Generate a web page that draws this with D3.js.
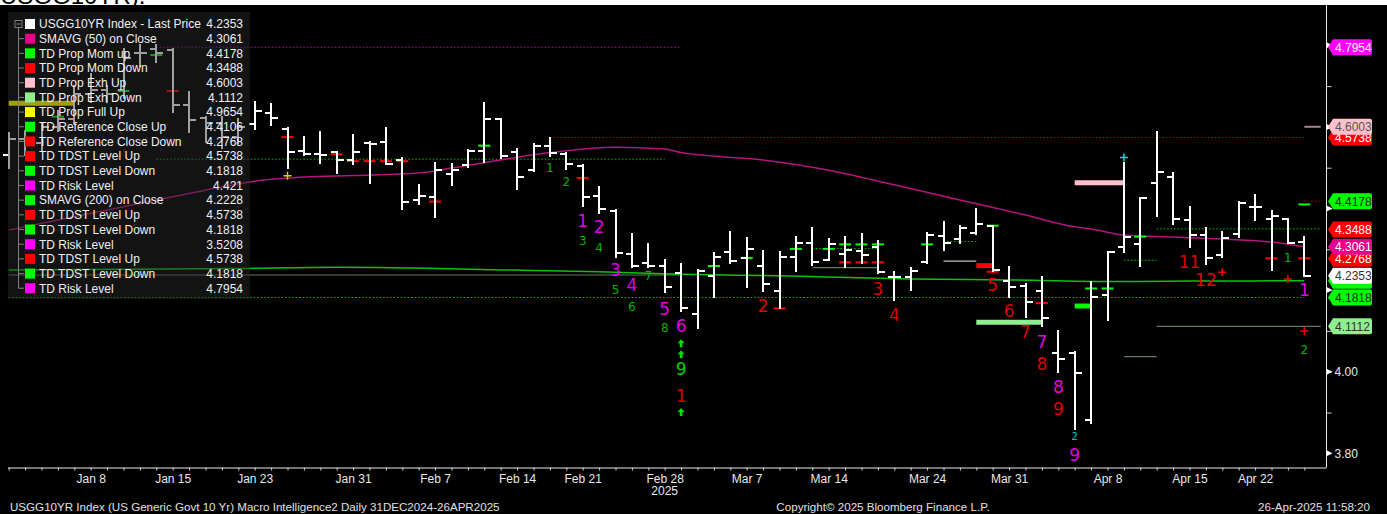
<!DOCTYPE html>
<html>
<head>
<meta charset="utf-8">
<script src="https://cdn.jsdelivr.net/npm/d3@7"></script>
<style>
  html, body { margin: 0; padding: 0; background: #fff; }
  svg { display: block; font-family: "Liberation Sans", Arial, sans-serif; }
</style>
</head>
<body>
<svg id="chart" width="1387" height="514"></svg>
<script>
// trading days shown on the chart
const dates = ['2024-12-31','2025-01-02','2025-01-03','2025-01-06','2025-01-07','2025-01-08','2025-01-09','2025-01-10','2025-01-13','2025-01-14','2025-01-15','2025-01-16','2025-01-17','2025-01-21','2025-01-22','2025-01-23','2025-01-24','2025-01-27','2025-01-28','2025-01-29','2025-01-30','2025-01-31','2025-02-03','2025-02-04','2025-02-05','2025-02-06','2025-02-07','2025-02-10','2025-02-11','2025-02-12','2025-02-13','2025-02-14','2025-02-18','2025-02-19','2025-02-20','2025-02-21','2025-02-24','2025-02-25','2025-02-26','2025-02-27','2025-02-28','2025-03-03','2025-03-04','2025-03-05','2025-03-06','2025-03-07','2025-03-10','2025-03-11','2025-03-12','2025-03-13','2025-03-14','2025-03-17','2025-03-18','2025-03-19','2025-03-20','2025-03-21','2025-03-24','2025-03-25','2025-03-26','2025-03-27','2025-03-28','2025-03-31','2025-04-01','2025-04-02','2025-04-03','2025-04-04','2025-04-07','2025-04-08','2025-04-09','2025-04-10','2025-04-11','2025-04-14','2025-04-15','2025-04-16','2025-04-17','2025-04-21','2025-04-22','2025-04-23','2025-04-24','2025-04-25'];

const open = [4.53,4.57,4.56,4.60,4.62,4.68,4.69,4.69,4.78,4.79,
  4.788,4.654,4.623,4.61,4.575,4.606,4.635,4.595,4.542,4.533,
  4.538,4.520,4.561,4.562,4.519,4.421,4.429,4.484,4.507,4.541,
  4.619,4.538,4.495,4.553,4.534,4.505,4.431,4.395,4.288,4.267,
  4.260,4.243,4.141,4.235,4.293,4.279,4.260,4.199,4.280,4.316,
  4.275,4.288,4.297,4.306,4.233,4.231,4.268,4.333,4.325,4.339,
  4.358,4.222,4.210,4.199,4.045,4.045,3.882,4.188,4.306,4.312,
  4.462,4.478,4.372,4.335,4.286,4.337,4.403,4.374,4.374,4.319];
const high = [4.585,4.59,4.61,4.64,4.70,4.73,4.70,4.79,4.80,4.80,
  4.79,4.686,4.625,4.625,4.62,4.662,4.656,4.597,4.576,4.588,
  4.539,4.580,4.562,4.597,4.523,4.458,4.512,4.510,4.543,4.658,
  4.619,4.545,4.557,4.574,4.535,4.507,4.453,4.396,4.337,4.312,
  4.275,4.263,4.249,4.292,4.342,4.327,4.296,4.293,4.329,4.351,
  4.325,4.329,4.337,4.321,4.245,4.255,4.339,4.366,4.358,4.398,
  4.358,4.257,4.214,4.233,4.100,4.048,4.221,4.294,4.511,4.425,
  4.587,4.488,4.404,4.351,4.343,4.417,4.433,4.395,4.374,4.329];
const low = [4.50,4.53,4.54,4.59,4.61,4.66,4.66,4.67,4.75,4.76,
  4.637,4.588,4.564,4.548,4.56,4.594,4.605,4.499,4.531,4.511,
  4.488,4.510,4.462,4.509,4.400,4.411,4.380,4.458,4.502,4.515,
  4.523,4.447,4.492,4.529,4.496,4.406,4.390,4.282,4.257,4.257,
  4.195,4.150,4.106,4.184,4.266,4.208,4.199,4.155,4.248,4.262,
  4.274,4.257,4.266,4.243,4.176,4.200,4.267,4.298,4.315,4.337,
  4.248,4.184,4.133,4.112,4.000,3.859,3.875,4.127,4.293,4.259,
  4.382,4.361,4.306,4.264,4.280,4.331,4.372,4.249,4.315,4.235];
const close = [4.57,4.56,4.60,4.62,4.68,4.69,4.68,4.77,4.78,4.78,
  4.654,4.617,4.61,4.575,4.60,4.639,4.623,4.538,4.534,4.531,
  4.519,4.539,4.557,4.510,4.417,4.431,4.494,4.494,4.542,4.619,
  4.529,4.477,4.553,4.535,4.510,4.429,4.400,4.290,4.259,4.260,
  4.207,4.155,4.247,4.280,4.272,4.300,4.215,4.280,4.315,4.270,
  4.312,4.298,4.286,4.245,4.233,4.247,4.335,4.316,4.351,4.361,
  4.249,4.207,4.170,4.132,4.030,3.996,4.184,4.294,4.331,4.425,
  4.490,4.374,4.335,4.279,4.327,4.413,4.403,4.382,4.316,4.2353];

// moving averages, sampled along the drawn line (bar index, value)
const sma50Idx  = [0, 3, 6, 9, 12, 15, 18, 21, 25, 27, 30, 33, 37, 40, 41, 46, 50, 54, 58, 62, 65, 66, 68, 71, 74, 77, 79];
const sma50Val  = [4.347,4.372,4.396,4.421,4.445,4.467,4.477,4.481,4.487,4.499,4.519,4.537,4.550,4.546,4.537,4.519,4.494,4.458,4.421,4.384,4.355,4.350,4.335,4.330,4.325,4.318,4.3061];
const sma200Idx = [0, 14, 20, 31, 36, 41, 47, 55, 61, 68, 72, 79];
const sma200Val = [4.249,4.253,4.256,4.249,4.245,4.239,4.235,4.227,4.225,4.221,4.222,4.2228];

// legend rows
const legendNames = ['USGG10YR Index - Last Price','SMAVG (50)  on Close','TD Prop Mom up','TD Prop Mom Down','TD Prop Exh Up','TD Prop Exh Down','TD Prop Full Up','TD Reference Close Up','TD Reference Close Down','TD TDST Level Up','TD TDST Level Down','TD Risk Level','SMAVG (200)  on Close','TD TDST Level Up','TD TDST Level Down','TD Risk Level','TD TDST Level Up','TD TDST Level Down','TD Risk Level'];
const legendValues = ['4.2353','4.3061','4.4178','4.3488','4.6003','4.1112','4.9654','4.4106','4.2768','4.5738','4.1818','4.421','4.2228','4.5738','4.1818','3.5208','4.5738','4.1818','4.7954'];
const legendColors = ['#ffffff','#e6008c','#00ff00','#ff0000','#ffc0cb','#90ee90','#ffff00','#00ff00','#ff0000','#ff0000','#00ff00','#ff00ff','#00ff00','#ff0000','#00ff00','#ff00ff','#ff0000','#00ff00','#ff00ff'];

// right-hand value badges (the 4.2228 one sits almost fully hidden)
const badgeVals   = [4.1112, 4.1818, 4.2228, 4.2353, 4.2768, 4.3061, 4.3488, 4.4178, 4.5738, 4.6003, 4.7954];
const badgeFill   = ['#90ee90','#00ff00','#00ff00','#ffffff','#ff0000','#e6008c','#ff0000','#00ff00','#ff0000','#ffc0cb','#ff00ff'];
const badgeText   = ['#333333','#222222','#222222','#333333','#ffffff','#ffffff','#ffffff','#222222','#ffffff','#555555','#ffffff'];
const badgeShown  = [true, true, false, true, true, true, true, true, true, true, true];

// axis labels
const labelDates = ['2025-01-08','2025-01-15','2025-01-23','2025-01-31','2025-02-07','2025-02-14','2025-02-21','2025-02-28','2025-03-07','2025-03-14','2025-03-24','2025-03-31','2025-04-08','2025-04-15','2025-04-22'];
const yMajors = [3.8, 4.0, 4.2, 4.4, 4.6, 4.8];
const yLabelled = [3.8, 4.0];

// TD reference close markers: [bar index, level]
const redDashes = [[10,4.688],[17,4.575],[20,4.533],[21,4.516],[22,4.516],[23,4.516],[24,4.516],[26,4.417],[35,4.475],[47,4.155],[51,4.268],[52,4.268],[53,4.268],[60,4.245],[63,4.168],[77,4.278],[79,4.278]];
const greenDashes = [[3,4.625],[7,4.688],[9,4.776],[29,4.554],[43,4.259],[45,4.279],[48,4.301],[50,4.301],[51,4.312],[52,4.312],[53,4.312],[56,4.312],[60,4.358],[66,4.204],[67,4.204],[69,4.331],[79,4.410]];

// TD level segments: [from index, to index, level, kind]
const levelSegs = [
  [9, 41, 4.7954, 'riskDot'],
  [9, 40, 4.521, 'greenDot'],
  [33, 79, 4.5738, 'redDot'],
  [0, 79, 4.1818, 'greenDot'],
  [70, 80, 4.350, 'greenDot'],
  [68, 70, 4.273, 'greenDot'],
  [49, 53, 4.302, 'greenDot'],
  [57, 59, 4.319, 'greenDot'],
  [79, 80, 4.418, 'redDot'],
  [0, 41, 4.237, 'grey'],
  [49, 53, 4.255, 'grey'],
  [57, 59, 4.271, 'lightGrey'],
  [70, 80, 4.1112, 'grey'],
  [68, 70, 4.037, 'grey'],
  [79, 80, 4.6003, 'brown']
];
// TD prop blocks: [from index, to index, level, colour]
const blocks = [
  [0, 4, 4.658, '#ffff00'],
  [65, 68, 4.463, '#ffc0cb'],
  [59, 63, 4.121, '#90ee90'],
  [59, 60, 4.260, '#ff0000'],
  [65, 66, 4.161, '#00ff00']
];
const plusMarks = [[17,4.480,'#e0d000'],[68,4.525,'#00e0e0'],[74,4.244,'#ff0000'],[78,4.227,'#ff0000'],[79,4.100,'#ff0000']];
const arrowMarks = [[41,4.070],[41,4.043],[41,3.901]];

// TD sequential counts: [bar index, text, level]
const greenCounts = [[33,'1',4.501],[34,'2',4.466],[35,'3',4.321],[36,'4',4.305],[37,'5',4.200],[38,'6',4.159],[39,'7',4.235],[40,'8',4.109],[78,'1',4.279],[79,'2',4.053]];
const bigGreenCounts = [[41,'9',4.007]];
const magentaCounts = [[35,'1',4.370],[36,'2',4.355],[37,'3',4.249],[38,'4',4.213],[40,'5',4.155],[41,'6',4.112],[63,'7',4.074],[64,'8',3.963],[65,'9',3.796],[79,'1',4.200]];
const redCounts = [[41,'1',3.940],[46,'2',4.161],[53,'3',4.204],[54,'4',4.139],[60,'5',4.213],[61,'6',4.149],[62,'7',4.098],[63,'8',4.018],[64,'9',3.908],[72,'11',4.270],[73,'12',4.226]];
const cyanCounts = [[65,'2',3.842]];

// ---- layout ----
const W = 1387, H = 514;
const plot = { right: 1326.5, top: 5, bottom: 467.5 };
const uiFont = '"DejaVu Sans", Verdana, sans-serif';

const svg = d3.select('#chart');

svg.append('rect').attr('width', W).attr('height', H).attr('fill', '#ffffff');
// bottom of the cropped caption above the chart
svg.append('text')
  .attr('x', 0).attr('y', 4)
  .style('font-size', '24px')
  .style('fill', '#000')
  .text('USGG10YR).');
svg.append('rect').attr('x', 0).attr('y', plot.top).attr('width', W).attr('height', H - plot.top).attr('fill', '#000000');

// scales
const x = d3.scalePoint().domain(dates).range([8.7, 1304.3]);
const y = d3.scaleLinear().domain([3.8, 4.8]).range([453.3, 45.3]);
const xAt = i => i < dates.length ? x(dates[i]) : x(dates[dates.length - 1]) + (i - dates.length + 1) * x.step();

const g = svg.append('g');

// level segments
const segStyle = {
  riskDot:   { stroke: '#c000c0', dash: '1.5,2', w: 1 },
  greenDot:  { stroke: '#00c000', dash: '1.5,2', w: 1 },
  redDot:    { stroke: '#c00000', dash: '1.5,2', w: 1 },
  grey:      { stroke: '#5e7a5e', dash: null, w: 1.2 },
  lightGrey: { stroke: '#b8c8b8', dash: null, w: 1.2 },
  brown:     { stroke: '#a08484', dash: null, w: 2 }
};
g.selectAll('.seg')
  .data(levelSegs)
  .enter()
  .append('line')
  .attr('x1', d => xAt(d[0]))
  .attr('x2', d => xAt(d[1]))
  .attr('y1', d => y(d[2]))
  .attr('y2', d => y(d[2]))
  .attr('stroke', d => segStyle[d[3]].stroke)
  .attr('stroke-width', d => segStyle[d[3]].w)
  .attr('stroke-dasharray', d => segStyle[d[3]].dash);

// moving averages
const maLine = d3.line()
  .x(d => xAt(d[0]))
  .y(d => y(d[1]))
  .curve(d3.curveMonotoneX);

g.append('path')
  .datum(sma200Idx.map((d, i) => [d, sma200Val[i]]))
  .attr('d', maLine)
  .attr('fill', 'none')
  .attr('stroke', '#10c010')
  .attr('stroke-width', 1.5);

g.append('path')
  .datum(sma50Idx.map((d, i) => [d, sma50Val[i]]))
  .attr('d', maLine)
  .attr('fill', 'none')
  .attr('stroke', '#b4147e')
  .attr('stroke-width', 1.5);

// TD prop blocks
g.selectAll('.block')
  .data(blocks)
  .enter()
  .append('line')
  .attr('x1', d => xAt(d[0]))
  .attr('x2', d => xAt(d[1]))
  .attr('y1', d => y(d[2]))
  .attr('y2', d => y(d[2]))
  .attr('stroke', d => d[3])
  .attr('stroke-width', 5);

// reference close dashes
const dash = (data, colour) => g.selectAll(null)
  .data(data)
  .enter()
  .append('line')
  .attr('x1', d => xAt(d[0]) - 6)
  .attr('x2', d => xAt(d[0]) + 6)
  .attr('y1', d => y(d[1]))
  .attr('y2', d => y(d[1]))
  .attr('stroke', colour)
  .attr('stroke-width', 2);
dash(redDashes, '#ff0000');
dash(greenDashes, '#00ff00');

// OHLC bars
const bars = g.selectAll('.bar')
  .data(dates)
  .enter()
  .append('g')
  .attr('stroke', '#ffffff')
  .attr('stroke-width', 2)
  .attr('shape-rendering', 'crispEdges');
bars.append('line')
  .attr('x1', d => x(d)).attr('x2', d => x(d))
  .attr('y1', (d, i) => y(high[i]) - 1)
  .attr('y2', (d, i) => y(low[i]) + 1);
bars.append('line')
  .attr('x1', d => x(d) - 6).attr('x2', d => x(d))
  .attr('y1', (d, i) => y(open[i])).attr('y2', (d, i) => y(open[i]));
bars.append('line')
  .attr('x1', d => x(d)).attr('x2', d => x(d) + 7)
  .attr('y1', (d, i) => y(close[i])).attr('y2', (d, i) => y(close[i]));

// plus markers
g.selectAll('.plus')
  .data(plusMarks)
  .enter()
  .append('path')
  .attr('d', d => {
    const cx = xAt(d[0]), cy = y(d[1]);
    return `M${cx - 4},${cy}H${cx + 4}M${cx},${cy - 4}V${cy + 4}`;
  })
  .attr('stroke', d => d[2])
  .attr('stroke-width', 1.5);

// up arrows
g.selectAll('.arrow')
  .data(arrowMarks)
  .enter()
  .append('path')
  .attr('d', d => {
    const cx = xAt(d[0]), cy = y(d[1]);
    return `M${cx},${cy - 4}L${cx + 3.5},${cy}H${cx + 1.3}V${cy + 4}H${cx - 1.3}V${cy}H${cx - 3.5}Z`;
  })
  .attr('fill', '#00e000');

// sequential count labels
const counts = (data, colour, size) => g.selectAll(null)
  .data(data)
  .enter()
  .append('text')
  .attr('x', d => xAt(d[0]))
  .attr('y', d => y(d[2]))
  .attr('dy', '0.36em')
  .attr('text-anchor', 'middle')
  .style('font-family', uiFont)
  .style('font-size', size + 'px')
  .style('fill', colour)
  .text(d => d[1]);
counts(greenCounts, '#00b400', 12);
counts(bigGreenCounts, '#00d000', 17);
counts(magentaCounts, '#e000e0', 17);
counts(redCounts, '#dd0000', 17);
counts(cyanCounts, '#00c8c8', 10);

// legend (semi transparent panel)
const legend = svg.append('g');
legend.append('rect')
  .attr('x', 8).attr('y', 12)
  .attr('width', 242).attr('height', 287)
  .attr('fill', '#2a2a2a')
  .attr('opacity', 0.45);

const rowY = i => 24 + i * 14.68;
legend.append('line')
  .attr('x1', 18.5).attr('x2', 18.5)
  .attr('y1', rowY(0) + 4).attr('y2', rowY(legendNames.length - 1))
  .attr('stroke', '#808080');
legend.append('rect')
  .attr('x', 15).attr('y', rowY(0) - 3.5).attr('width', 7).attr('height', 7)
  .attr('fill', '#111').attr('stroke', '#808080');
legend.append('line')
  .attr('x1', 16.5).attr('x2', 20.5).attr('y1', rowY(0)).attr('y2', rowY(0))
  .attr('stroke', '#909090');

const rows = legend.selectAll('.row')
  .data(legendNames)
  .enter()
  .append('g')
  .attr('transform', (d, i) => `translate(0,${rowY(i)})`);
rows.filter((d, i) => i > 0)
  .append('line')
  .attr('x1', 18.5).attr('x2', 24).attr('y1', 0).attr('y2', 0)
  .attr('stroke', '#808080');
rows.append('rect')
  .attr('x', 25).attr('y', -5)
  .attr('width', 10).attr('height', 10)
  .attr('fill', (d, i) => legendColors[i]);
const names = rows.append('text')
  .attr('class', 'lg')
  .attr('x', 39).attr('y', 0).attr('dy', '0.36em')
  .style('font-size', '12px')
  .style('fill', '#f0f0f0')
  .text(d => d);
rows.append('text')
  .attr('class', 'lg')
  .attr('x', 243).attr('y', 0).attr('dy', '0.36em')
  .attr('text-anchor', 'end')
  .style('font-size', '12px')
  .style('fill', '#f0f0f0')
  .text((d, i) => legendValues[i]);

// the Bloomberg legend face is wide: size it so the first row spans like the original
const firstW = names.node().getComputedTextLength();
const legendSize = Math.min(14, Math.max(11, 12 * 162 / firstW));
legend.selectAll('text.lg').style('font-size', legendSize + 'px');

// bottom axis
const fmt = d3.timeFormat('%b %-d');
const parse = d3.timeParse('%Y-%m-%d');
const xAxis = svg.append('g')
  .attr('transform', `translate(0,${plot.bottom})`)
  .call(d3.axisBottom(x)
    .tickSize(3)
    .tickPadding(4)
    .tickFormat(d => labelDates.includes(d) ? fmt(parse(d)) : ''));
xAxis.select('.domain').attr('d', `M8,0.5H${plot.right}`).attr('stroke', '#e8e8e8');
xAxis.selectAll('.tick line').attr('stroke', '#cfcfcf');
xAxis.selectAll('.tick text')
  .attr('font-family', null)
  .style('font-size', '12px')
  .style('fill', '#e8e8e8');
svg.append('text')
  .attr('x', x('2025-02-28')).attr('y', 495)
  .attr('text-anchor', 'middle')
  .style('font-size', '12px').style('fill', '#e8e8e8')
  .text('2025');

// right axis
svg.append('line')
  .attr('x1', plot.right).attr('x2', plot.right)
  .attr('y1', plot.top).attr('y2', plot.bottom)
  .attr('stroke', '#e8e8e8');
const yAxis = svg.append('g')
  .attr('transform', `translate(${plot.right},0)`)
  .call(d3.axisRight(y)
    .tickValues(d3.range(38, 49).map(v => v / 10))
    .tickSize(5)
    .tickFormat(() => ''));
yAxis.select('.domain').remove();
yAxis.selectAll('.tick line').attr('stroke', '#d0d0d0');

svg.selectAll('.ymaj')
  .data(yMajors)
  .enter()
  .append('path')
  .attr('d', d => `M${plot.right},${y(d) - 3}L${plot.right + 6},${y(d)}L${plot.right},${y(d) + 3}Z`)
  .attr('fill', '#ffffff');
svg.selectAll('.ylab')
  .data(yLabelled)
  .enter()
  .append('text')
  .attr('x', plot.right + 8).attr('y', d => y(d)).attr('dy', '0.36em')
  .style('font-size', '12px').style('fill', '#e8e8e8')
  .text(d => d.toFixed(2));

// value badges
const badges = svg.selectAll('.badge')
  .data(badgeVals)
  .enter()
  .append('g')
  .attr('transform', d => `translate(${plot.right + 1.5},${y(d)})`);
badges.append('path')
  .attr('d', 'M0,0L5,-8H42Q44,-8 44,-6V6Q44,8 42,8H5Z')
  .attr('fill', (d, i) => badgeFill[i]);
badges.filter((d, i) => badgeShown[i])
  .append('text')
  .attr('x', 7).attr('y', 0).attr('dy', '0.36em')
  .style('font-size', '12px')
  .style('fill', d => badgeText[badgeVals.indexOf(d)])
  .text(d => d.toFixed(4));

// footer
const foot = svg.append('g').style('font-size', '11.6px').style('fill', '#e0e0e0');
foot.append('text').attr('x', 10).attr('y', 511)
  .text('USGG10YR Index (US Generic Govt 10 Yr) Macro Intelligence2  Daily 31DEC2024-26APR2025');
foot.append('text').attr('x', 883).attr('y', 511).attr('text-anchor', 'middle')
  .text('Copyright\u00a9 2025 Bloomberg Finance L.P.');
foot.append('text').attr('x', 1370).attr('y', 511).attr('text-anchor', 'end')
  .text('26-Apr-2025 11:58:20');
</script>
</body>
</html>
